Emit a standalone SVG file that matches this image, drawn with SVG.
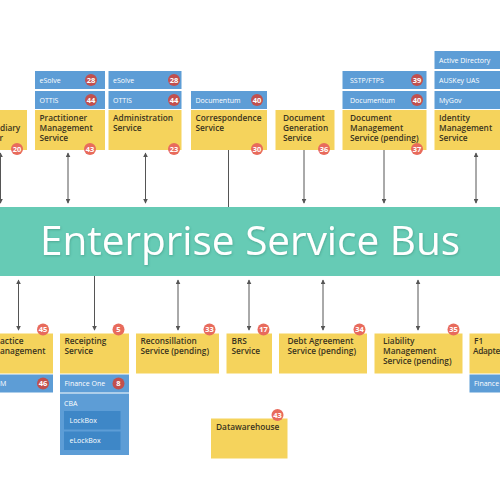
<svg xmlns="http://www.w3.org/2000/svg" width="500" height="500" viewBox="0 0 500 500">
<defs>
<style>
.y{fill:#F5D35C}
.b{fill:#5D9DD6}
.bd{fill:#3E87C7}
.t{font-family:"Open Sans","DejaVu Sans",sans-serif;font-size:8.3px;font-weight:600;fill:#3a3320}
.w{font-family:"Open Sans","DejaVu Sans",sans-serif;font-size:7px;fill:#ffffff}
.rb{fill:#E86B5C}
.rd{fill:#C2504E}
.n{font-family:"Open Sans","DejaVu Sans",sans-serif;font-size:7.5px;font-weight:700;fill:#ffffff;text-anchor:middle}
.c{stroke:#555;stroke-width:1;fill:none}
</style>
<marker id="ah" viewBox="0 0 8 8" refX="7" refY="4" markerWidth="5" markerHeight="5" orient="auto-start-reverse">
<path d="M0,0 L8,4 L0,8 z" fill="#555"/>
</marker>
<filter id="sh" x="-5%" y="-20%" width="110%" height="140%">
<feDropShadow dx="0.6" dy="1" stdDeviation="0.8" flood-color="#2a7a68" flood-opacity="0.45"/>
</filter>
</defs>
<rect width="500" height="500" fill="#ffffff"/>

<g id="connectors">
<line class="c" x1="0.5" y1="153" x2="0.5" y2="203" marker-start="url(#ah)" marker-end="url(#ah)"/>
<line class="c" x1="68" y1="153" x2="68" y2="203" marker-start="url(#ah)" marker-end="url(#ah)"/>
<line class="c" x1="145.5" y1="153" x2="145.5" y2="203" marker-start="url(#ah)" marker-end="url(#ah)"/>
<line class="c" x1="228.5" y1="150" x2="228.5" y2="207"/>
<line class="c" x1="304" y1="150" x2="304" y2="203" marker-end="url(#ah)"/>
<line class="c" x1="384" y1="150" x2="384" y2="203" marker-end="url(#ah)"/>
<line class="c" x1="476" y1="153" x2="476" y2="203" marker-start="url(#ah)" marker-end="url(#ah)"/>
<line class="c" x1="18.5" y1="280" x2="18.5" y2="330" marker-start="url(#ah)" marker-end="url(#ah)"/>
<line class="c" x1="94.5" y1="276" x2="94.5" y2="330" marker-end="url(#ah)"/>
<line class="c" x1="178" y1="280" x2="178" y2="330" marker-start="url(#ah)" marker-end="url(#ah)"/>
<line class="c" x1="249" y1="280" x2="249" y2="330" marker-start="url(#ah)" marker-end="url(#ah)"/>
<line class="c" x1="323" y1="280" x2="323" y2="330" marker-start="url(#ah)" marker-end="url(#ah)"/>
<line class="c" x1="418" y1="280" x2="418" y2="330" marker-start="url(#ah)" marker-end="url(#ah)"/>
</g>

<g id="esb">
<rect x="0" y="207" width="500" height="69" fill="#66CBB5"/>
<text x="250" y="254.5" text-anchor="middle" font-family="'Open Sans','DejaVu Sans',sans-serif" font-size="40.5" font-weight="500" fill="#ffffff" filter="url(#sh)">Enterprise Service Bus</text>
</g>

<g id="intermediary">
<rect class="y" x="-5" y="110" width="32" height="40"/>
<text class="t" x="0" y="131">diary</text>
<text class="t" x="3" y="141" text-anchor="end">r</text>
<circle class="rb" cx="17" cy="149" r="6"/><text class="n" x="17" y="151.6">20</text>
</g>

<g id="practitioner">
<rect class="b" x="35" y="71" width="70" height="18"/>
<text class="w" x="39.5" y="82.5">eSolve</text>
<circle class="rd" cx="91" cy="80" r="6"/><text class="n" x="91" y="82.6">28</text>
<rect class="b" x="35" y="91" width="70" height="18"/>
<text class="w" x="39.5" y="102.5">OTTIS</text>
<circle class="rd" cx="91" cy="100" r="6"/><text class="n" x="91" y="102.6">44</text>
<rect class="y" x="35" y="110" width="70" height="40"/>
<text class="t" x="39.5" y="121">Practitioner</text>
<text class="t" x="39.5" y="131">Management</text>
<text class="t" x="39.5" y="141">Service</text>
<circle class="rb" cx="90" cy="149" r="6"/><text class="n" x="90" y="151.6">43</text>
</g>

<g id="administration">
<rect class="b" x="108.5" y="71" width="73" height="18"/>
<text class="w" x="113" y="82.5">eSolve</text>
<circle class="rd" cx="174" cy="80" r="6"/><text class="n" x="174" y="82.6">28</text>
<rect class="b" x="108.5" y="91" width="73" height="18"/>
<text class="w" x="113" y="102.5">OTTIS</text>
<circle class="rd" cx="174" cy="100" r="6"/><text class="n" x="174" y="102.6">44</text>
<rect class="y" x="108.5" y="110" width="73" height="40"/>
<text class="t" x="113" y="121">Administration</text>
<text class="t" x="113" y="131">Service</text>
<circle class="rb" cx="174" cy="149" r="6"/><text class="n" x="174" y="151.6">23</text>
</g>

<g id="correspondence">
<rect class="b" x="191" y="91" width="76" height="18"/>
<text class="w" x="195.5" y="102.5">Documentum</text>
<circle class="rd" cx="257" cy="100" r="6"/><text class="n" x="257" y="102.6">40</text>
<rect class="y" x="191" y="110" width="76" height="40"/>
<text class="t" x="195.5" y="121">Correspondence</text>
<text class="t" x="195.5" y="131">Service</text>
<circle class="rb" cx="257" cy="149" r="6"/><text class="n" x="257" y="151.6">30</text>
</g>

<g id="docgen">
<rect class="y" x="275.5" y="110" width="59" height="40"/>
<text class="t" x="283" y="121">Document</text>
<text class="t" x="283" y="131">Generation</text>
<text class="t" x="283" y="141">Service</text>
<circle class="rb" cx="324" cy="149" r="6"/><text class="n" x="324" y="151.6">36</text>
</g>

<g id="docmgmt">
<rect class="b" x="342.5" y="71" width="84" height="18"/>
<text class="w" x="350" y="82.5">SSTP/FTPS</text>
<circle class="rd" cx="417" cy="80" r="6"/><text class="n" x="417" y="82.6">39</text>
<rect class="b" x="342.5" y="91" width="84" height="18"/>
<text class="w" x="350" y="102.5">Documentum</text>
<circle class="rd" cx="417" cy="100" r="6"/><text class="n" x="417" y="102.6">40</text>
<rect class="y" x="342.5" y="110" width="84" height="40"/>
<text class="t" x="350" y="121">Document</text>
<text class="t" x="350" y="131">Management</text>
<text class="t" x="350" y="141">Service (pending)</text>
<circle class="rb" cx="417" cy="149" r="6"/><text class="n" x="417" y="151.6">37</text>
</g>

<g id="identity">
<rect class="b" x="434.5" y="51" width="70" height="18"/>
<text class="w" x="439" y="62.5">Active Directory</text>
<rect class="b" x="434.5" y="71" width="70" height="18"/>
<text class="w" x="439" y="82.5">AUSKey UAS</text>
<rect class="b" x="434.5" y="91" width="70" height="18"/>
<text class="w" x="439" y="102.5">MyGov</text>
<rect class="y" x="434.5" y="110" width="70" height="40"/>
<text class="t" x="439" y="121">Identity</text>
<text class="t" x="439" y="131">Management</text>
<text class="t" x="439" y="141">Service</text>
</g>

<g id="practice">
<rect class="y" x="-5" y="333.5" width="58" height="40"/>
<text class="t" x="0" y="344">actice</text>
<text class="t" x="0" y="354">anagement</text>
<circle class="rb" cx="43" cy="329.5" r="6"/><text class="n" x="43" y="332.1">45</text>
<rect class="b" x="-5" y="374.5" width="58" height="18"/>
<text class="w" x="0" y="386">M</text>
<circle class="rd" cx="43" cy="383.5" r="6"/><text class="n" x="43" y="386.1">46</text>
</g>

<g id="receipting">
<rect class="y" x="60" y="333.5" width="69" height="40"/>
<text class="t" x="64.5" y="344">Receipting</text>
<text class="t" x="64.5" y="354">Service</text>
<circle class="rb" cx="118.5" cy="329.5" r="6"/><text class="n" x="118.5" y="332.1">5</text>
<rect class="b" x="60" y="374.5" width="69" height="18"/>
<text class="w" x="64.5" y="386">Finance One</text>
<circle class="rd" cx="118.5" cy="383.5" r="6"/><text class="n" x="118.5" y="386.1">8</text>
<rect class="b" x="60" y="393.5" width="69" height="61.5"/>
<text class="w" x="64" y="405.5">CBA</text>
<rect class="bd" x="64" y="411" width="56.5" height="18.5"/>
<text class="w" x="69.5" y="422.5">LockBox</text>
<rect class="bd" x="64" y="431.5" width="56.5" height="18.5"/>
<text class="w" x="69.5" y="443">eLockBox</text>
</g>

<g id="reconsillation">
<rect class="y" x="136" y="333.5" width="83" height="40"/>
<text class="t" x="140.5" y="344">Reconsillation</text>
<text class="t" x="140.5" y="354">Service (pending)</text>
<circle class="rb" cx="209.5" cy="329.5" r="6"/><text class="n" x="209.5" y="332.1">33</text>
</g>

<g id="brs">
<rect class="y" x="226.5" y="333.5" width="45.5" height="40"/>
<text class="t" x="231.5" y="344">BRS</text>
<text class="t" x="231.5" y="354">Service</text>
<circle class="rb" cx="263.5" cy="329.5" r="6"/><text class="n" x="263.5" y="332.1">17</text>
</g>

<g id="debt">
<rect class="y" x="279" y="333.5" width="88" height="40"/>
<text class="t" x="287.5" y="344">Debt Agreement</text>
<text class="t" x="287.5" y="354">Service (pending)</text>
<circle class="rb" cx="359.5" cy="329.5" r="6"/><text class="n" x="359.5" y="332.1">34</text>
</g>

<g id="liability">
<rect class="y" x="374.5" y="333.5" width="88" height="40"/>
<text class="t" x="383" y="344">Liability</text>
<text class="t" x="383" y="354">Management</text>
<text class="t" x="383" y="364">Service (pending)</text>
<circle class="rb" cx="453.5" cy="329.5" r="6"/><text class="n" x="453.5" y="332.1">35</text>
</g>

<g id="f1adapter">
<rect class="y" x="469.5" y="333.5" width="40" height="40"/>
<text class="t" x="474" y="344">F1</text>
<text class="t" x="473" y="354" style="letter-spacing:-0.3px">Adapte</text>
<rect class="b" x="469.5" y="374.5" width="40" height="18"/>
<text class="w" x="474" y="386">Finance</text>
</g>

<g id="datawarehouse">
<rect class="y" x="211" y="418.5" width="76.5" height="40"/>
<text class="t" x="216" y="429.5">Datawarehouse</text>
<circle class="rb" cx="277.5" cy="415" r="6"/><text class="n" x="277.5" y="417.6">43</text>
</g>
</svg>
